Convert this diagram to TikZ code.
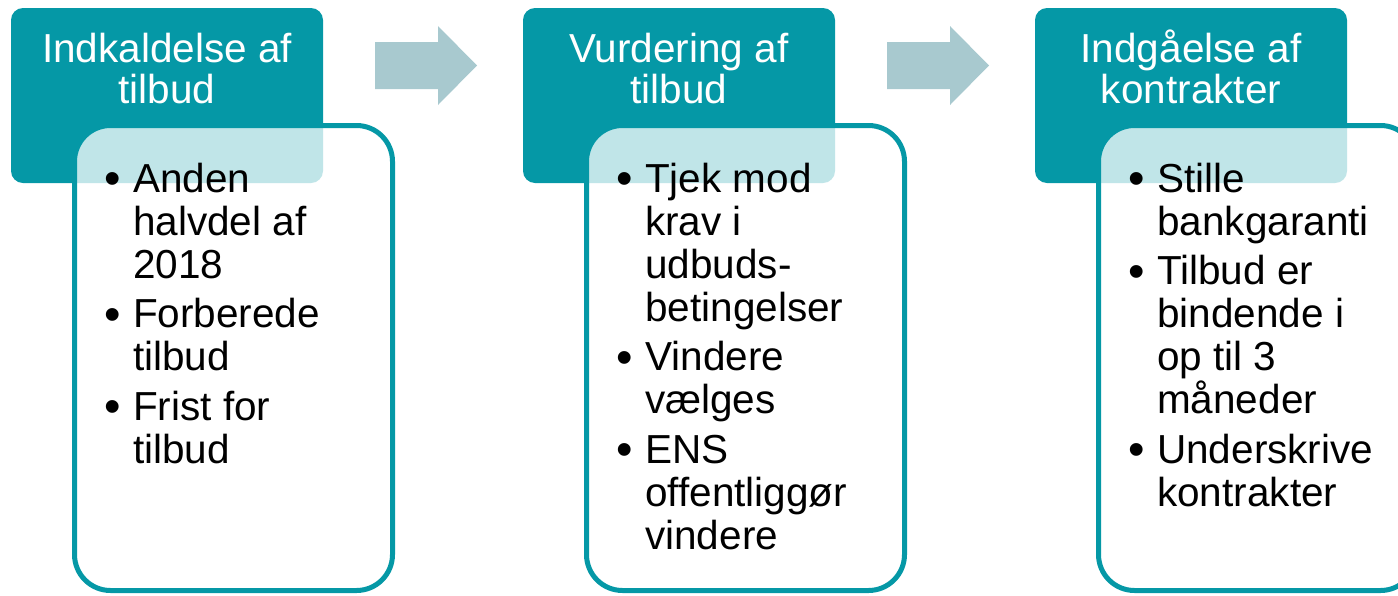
\documentclass[tikz,border=0pt]{standalone}
\usepackage{fontspec}
\setmainfont{Liberation Sans}
\definecolor{hdteal}{HTML}{0598A6}
\definecolor{arrowblue}{HTML}{A8C9CF}
\tikzset{
  header/.style={fill=hdteal, rounded corners=12pt},
  bodybox/.style={draw=hdteal, line width=5pt, fill=white, fill opacity=0.75, rounded corners=36pt},
  hdtext/.style={text=white, font=\fontsize{40.5}{41}\selectfont, inner sep=0pt, anchor=base},
  bodytext/.style={text=black, font=\fontsize{40.5}{43}\selectfont, inner sep=0pt, anchor=base west},
  bullettext/.style={text=black, font=\fontsize{47}{47}\selectfont, inner sep=0pt, anchor=base west},
  flowarrow/.style={fill=arrowblue}
}
\newcommand\bline[4]{\node[bodytext] (#1) at (#2,#3) {#4};}
\newcommand\bdot[3]{\node[bullettext] (#1) at ({#2-4},{#3+2.5}) {•};}
\begin{document}
\begin{tikzpicture}[x=1pt,y=-1pt]
\useasboundingbox (0,0) rectangle (1398,595);
\clip (0,0) rectangle (1398,595);
% arrows
\fill[flowarrow] (375,42) -- (438,42) -- (438,26) -- (477,65.5) -- (438,105) -- (438,89) -- (375,89) -- cycle;
\fill[flowarrow] (887,42) -- (950,42) -- (950,26) -- (989,65.5) -- (950,105) -- (950,89) -- (887,89) -- cycle;
% box 1
\fill[header] (11,8) rectangle (323,183);
\draw[bodybox] (74.5,125.5) rectangle (392.5,590.5);
\node[hdtext] (h1a) at (167,62) {Indkaldelse af};
\node[hdtext] (h1b) at (167,103) {tilbud};
\bdot{d1a}{108}{192}
\bline{l1a}{133}{192}{Anden}
\bline{l1b}{133}{235}{halvdel af}
\bline{l1c}{133}{278}{2018}
\bdot{d1b}{108}{327.5}
\bline{l1d}{133}{327.5}{Forberede}
\bline{l1e}{133}{370.5}{tilbud}
\bdot{d1c}{108}{420}
\bline{l1f}{133}{420}{Frist for}
\bline{l1g}{133}{463}{tilbud}
% box 2
\fill[header] (523,8) rectangle (835,183);
\draw[bodybox] (586.5,125.5) rectangle (904.5,590.5);
\node[hdtext] (h2a) at (679,62) {Vurdering af};
\node[hdtext] (h2b) at (679,103) {tilbud};
\bdot{d2a}{620}{192}
\bline{l2a}{645}{192}{Tjek mod}
\bline{l2b}{645}{235}{krav i}
\bline{l2c}{645}{278}{udbuds-}
\bline{l2d}{645}{321}{betingelser}
\bdot{d2b}{620}{370.5}
\bline{l2e}{645}{370.5}{Vindere}
\bline{l2f}{645}{413.5}{vælges}
\bdot{d2c}{620}{463}
\bline{l2g}{645}{463}{ENS}
\bline{l2h}{645}{506}{offentliggør}
\bline{l2i}{645}{549}{vindere}
% box 3
\fill[header] (1035,8) rectangle (1347,183);
\draw[bodybox] (1098.5,125.5) rectangle (1416.5,590.5);
\node[hdtext] (h3a) at (1191,62) {Indgåelse af};
\node[hdtext] (h3b) at (1191,103) {kontrakter};
\bdot{d3a}{1132}{192}
\bline{l3a}{1157}{192}{Stille}
\bline{l3b}{1157}{235}{bankgaranti}
\bdot{d3b}{1132}{284.5}
\bline{l3c}{1157}{284.5}{Tilbud er}
\bline{l3d}{1157}{327.5}{bindende i}
\bline{l3e}{1157}{370.5}{op til 3}
\bline{l3f}{1157}{413.5}{måneder}
\bdot{d3c}{1132}{463}
\bline{l3g}{1157}{463}{Underskrive}
\bline{l3h}{1157}{506}{kontrakter}
\end{tikzpicture}
\end{document}
